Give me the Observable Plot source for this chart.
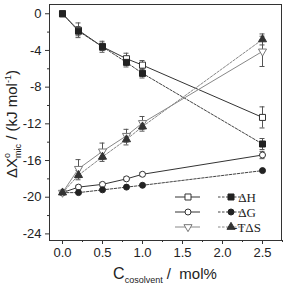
<!DOCTYPE html>
<html>
<head>
<meta charset="utf-8">
<script src="https://cdn.jsdelivr.net/npm/d3@7"></script>
<script src="https://cdn.jsdelivr.net/npm/@observablehq/plot@0.6"></script>
<style>
  body { margin: 0; background: #fff; }
  #chart svg { display: block; }
</style>
</head>
<body>
<div id="chart"></div>
<script>
// Cosolvent concentration (mol%)
const conc = [0, 0.2, 0.5, 0.8, 1.0, 2.5];

// Thermodynamic quantities of micellization (kJ/mol) with uncertainties
const dHOpen = [0, -1.8, -3.6, -4.9, -5.6, -11.3];
const dHOpenErr = [0, 0.8, 0.6, 0.6, 0.5, 1.15];
const dHFilled = [0, -1.9, -3.6, -5.3, -6.5, -14.2];
const dHFilledErr = [0, 0.5, 0.4, 0.5, 0.5, 0.6];

const dGOpen = [-19.5, -18.9, -18.6, -18.0, -17.5, -15.4];
const dGOpenErr = [0, 0.2, 0.2, 0.2, 0.2, 0.4];
const dGFilled = [-19.5, -19.5, -19.2, -18.9, -18.7, -17.1];
const dGFilledErr = [0, 0, 0, 0, 0, 0];

const tdSOpen = [-19.5, -16.9, -15.0, -13.3, -11.9, -4.1];
const tdSOpenErr = [0, 1.0, 0.9, 0.7, 0.7, 1.65];
const tdSFilled = [-19.5, -17.6, -15.6, -13.7, -12.3, -2.8];
const tdSFilledErr = [0, 0.5, 0.5, 0.6, 0.5, 0.6];

// Axis ticks
const xTicks = [0, 0.5, 1.0, 1.5, 2.0, 2.5];
const xMinor = [0.25, 0.75, 1.25, 1.75, 2.25, 2.75];
const yTicks = [0, -4, -8, -12, -16, -20, -24];
const yMinor = [-2, -6, -10, -14, -18, -22];

// Legend labels
const legendLabels = ["ΔH", "ΔG", "-TΔS"];

const series = [
  {name: "dH-open",   values: dHOpen,   err: dHOpenErr,   symbol: "square",   r: 3.4, fill: "white", stroke: "#333", line: "#333", dash: null, rotate: 0},
  {name: "dH-filled", values: dHFilled, err: dHFilledErr, symbol: "square",   r: 3.4, fill: "#222",  stroke: "#222", line: "#444", dash: "2.5,1.5", rotate: 0},
  {name: "dG-open",   values: dGOpen,   err: dGOpenErr,   symbol: "circle",   r: 3,   fill: "white", stroke: "#333", line: "#333", dash: null, rotate: 0},
  {name: "dG-filled", values: dGFilled, err: dGFilledErr, symbol: "circle",   r: 3,   fill: "#222",  stroke: "#222", line: "#444", dash: "2.5,1.5", rotate: 0},
  {name: "TdS-open",  values: tdSOpen,  err: tdSOpenErr,  symbol: "triangle", r: 3,   fill: "white", stroke: "#777", line: "#888", dash: null, rotate: 180},
  {name: "TdS-filled",values: tdSFilled,err: tdSFilledErr,symbol: "triangle", r: 3,   fill: "#333",  stroke: "#333", line: "#888", dash: "2.5,1.5", rotate: 0}
];

const rowsOf = s => conc.map((c, i) => ({c, v: s.values[i], e: s.err[i]}));

const marks = [
  Plot.axisX({ticks: xTicks, tickFormat: d => d.toFixed(1), tickSize: 4, tickPadding: 3, label: null, stroke: "#333"}),
  Plot.axisX({ticks: xMinor, tickFormat: () => "", tickSize: 2, label: null, stroke: "#333"}),
  Plot.axisY({ticks: yTicks, tickFormat: d => String(d), tickSize: 4, tickPadding: 4, label: null, stroke: "#333"}),
  Plot.axisY({ticks: yMinor, tickFormat: () => "", tickSize: 2, label: null, stroke: "#333"}),
  Plot.frame({stroke: "#333", strokeWidth: 1})
];

for (const s of series) {
  marks.push(Plot.line(rowsOf(s), {x: "c", y: "v", stroke: s.line, strokeWidth: 1, strokeDasharray: s.dash}));
}
for (const s of series) {
  const rows = rowsOf(s).filter(d => d.e > 0);
  marks.push(Plot.ruleX(rows, {x: "c", y1: d => d.v - d.e, y2: d => d.v + d.e, stroke: "#555", strokeWidth: 1}));
  marks.push(Plot.ruleY(rows, {x1: "c", x2: "c", y: d => d.v + d.e, insetLeft: -2.5, insetRight: -2.5, stroke: "#555", strokeWidth: 1}));
  marks.push(Plot.ruleY(rows, {x1: "c", x2: "c", y: d => d.v - d.e, insetLeft: -2.5, insetRight: -2.5, stroke: "#555", strokeWidth: 1}));
}
for (const s of series) {
  marks.push(Plot.dot(rowsOf(s), {x: "c", y: "v", symbol: s.symbol, r: s.r, fill: s.fill, stroke: s.stroke, strokeWidth: 1, rotate: s.rotate}));
}

const chart = Plot.plot({
  width: 284,
  height: 285,
  marginLeft: 49,
  marginRight: 3,
  marginTop: 4,
  marginBottom: 45,
  style: {fontFamily: "'Liberation Sans', Arial, sans-serif", fontSize: "13px", color: "#222", background: "white"},
  x: {domain: [-0.1625, 2.7375]},
  y: {domain: [-24.72, 1.01]},
  marks
});

const svg = d3.select(chart);

// y-axis title: ΔX°mic / (kJ mol-1)
const yt = svg.append("text")
  .attr("transform", "translate(17,124) rotate(-90)")
  .attr("text-anchor", "middle")
  .attr("font-family", "'Liberation Sans', Arial, sans-serif")
  .attr("font-size", 15)
  .attr("fill", "#222");
yt.append("tspan").text("ΔX");
yt.append("tspan").attr("font-size", 9).attr("dy", -7).text("o");
yt.append("tspan").attr("font-size", 9).attr("dx", -5).attr("dy", 11).text("mic");
yt.append("tspan").attr("dy", -4).text(" / (kJ mol");
yt.append("tspan").attr("font-size", 9).attr("dy", -6).text("-1");
yt.append("tspan").attr("dy", 6).text(")");

// x-axis title: Ccosolvent / mol%
const xt = svg.append("text")
  .attr("x", 165)
  .attr("y", 279)
  .attr("text-anchor", "middle")
  .attr("font-family", "'Liberation Sans', Arial, sans-serif")
  .attr("font-size", 16)
  .attr("fill", "#222");
xt.append("tspan").text("C");
xt.append("tspan").attr("font-size", 9).attr("dy", 4).text("cosolvent");
xt.append("tspan").attr("dy", -4).attr("font-size", 15).text(" /  mol%");

// legend: open markers (solid) and filled markers (dashed) per quantity
const lg = svg.append("g");
const symbolType = {square: d3.symbolSquare, circle: d3.symbolCircle, triangle: d3.symbolTriangle};
legendLabels.forEach((label, i) => {
  const y = 197 + i * 15;
  const open = series[i * 2], filled = series[i * 2 + 1];
  lg.append("line").attr("x1", 175).attr("x2", 200).attr("y1", y).attr("y2", y)
    .attr("stroke", open.line).attr("stroke-width", 1);
  lg.append("path")
    .attr("d", d3.symbol(symbolType[open.symbol], Math.PI * open.r * open.r)())
    .attr("transform", `translate(188,${y}) rotate(${open.rotate})`)
    .attr("fill", open.fill).attr("stroke", open.stroke);
  lg.append("line").attr("x1", 218).attr("x2", 244).attr("y1", y).attr("y2", y)
    .attr("stroke", filled.line).attr("stroke-width", 1).attr("stroke-dasharray", filled.dash);
  lg.append("path")
    .attr("d", d3.symbol(symbolType[filled.symbol], Math.PI * filled.r * filled.r)())
    .attr("transform", `translate(231,${y}) rotate(${filled.rotate})`)
    .attr("fill", filled.fill).attr("stroke", filled.stroke);
  lg.append("text").attr("x", 247).attr("y", y).attr("dy", "0.35em")
    .attr("font-family", "'Liberation Serif', 'Times New Roman', serif")
    .attr("font-size", 13).attr("fill", "#222")
    .text(label);
});

document.getElementById("chart").append(chart);
</script>
</body>
</html>
